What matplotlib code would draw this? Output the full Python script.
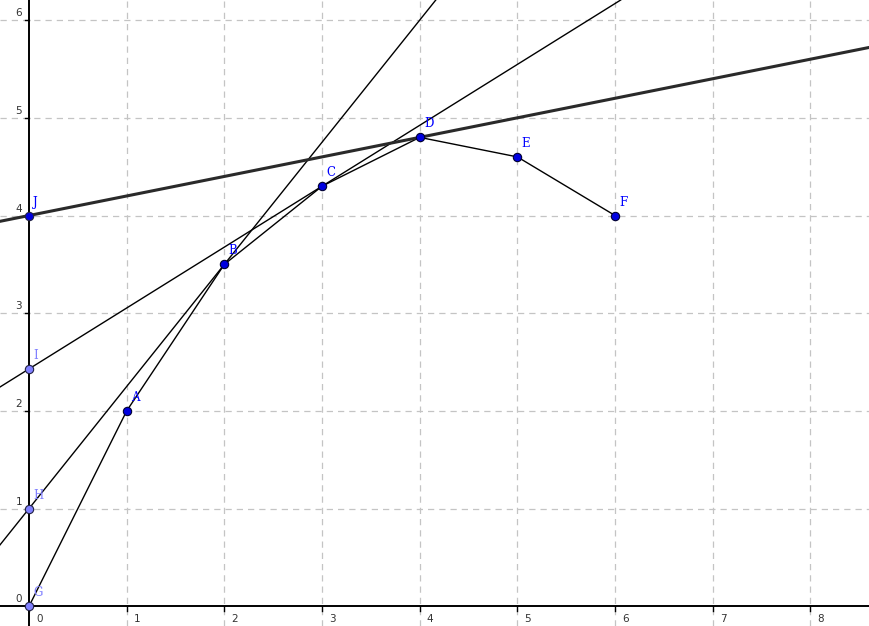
import matplotlib
matplotlib.use("Agg")
import matplotlib.pyplot as plt

# data points (blue)
pt_names = ["A", "B", "C", "D", "E", "F"]
pt_x = [1, 2, 3, 4, 5, 6]
pt_y = [2.0, 3.5, 4.3, 4.8, 4.6, 4.0]

# y-intercept points
int_names = ["G", "H", "I", "J"]
int_y = [0.0, 1.0, 2.43, 4.0]

# tangent lines: (intercept point index, through data point index)
tangent_pairs = [(1, 1), (2, 2), (3, 3)]

x_ticks = [0, 1, 2, 3, 4, 5, 6, 7, 8]
y_ticks = [0, 1, 2, 3, 4, 5, 6]

fig = plt.figure(figsize=(8.69, 6.26), dpi=100)
ax = fig.add_axes([0, 0, 1, 1])
ax.set_xlim(-0.297, 8.60)
ax.set_ylim(-0.2016, 6.206)
ax.axis("off")

# grid
for xv in x_ticks:
    if xv != 0:
        ax.axvline(xv, color="#c4c4c4", lw=0.9, ls=(0, (5, 4)), zorder=0)
for yv in y_ticks:
    if yv != 0:
        ax.axhline(yv, color="#c4c4c4", lw=0.9, ls=(0, (5, 4)), zorder=0)

# axes
ax.axhline(0, color="black", lw=1.4, zorder=1)
ax.axvline(0, color="black", lw=1.4, zorder=1)
for xv in x_ticks:
    ax.plot([xv, xv], [0, -0.05], color="black", lw=1.0, zorder=1)
    ax.annotate(str(xv), (xv, 0), xytext=(5, -9), textcoords="offset points",
                fontsize=7.5, color="#333333", ha="left", va="center")
for yv in y_ticks:
    ax.plot([-0.04, 0], [yv, yv], color="black", lw=1.0, zorder=1)
    ax.annotate(str(yv), (0, yv), xytext=(-5, 5), textcoords="offset points",
                fontsize=7.5, color="#333333", ha="right", va="center")

# polyline starting at G
poly_x = [0] + pt_x
poly_y = [int_y[0]] + pt_y
ax.plot(poly_x, poly_y, color="black", lw=1.0, zorder=2)

# tangent lines
for k, (ii, pi) in enumerate(tangent_pairs):
    thick = (ii == 3)
    ax.axline((0, int_y[ii]), (pt_x[pi], pt_y[pi]),
              color="#2a2a2a" if thick else "black",
              lw=2.2 if thick else 1.0, zorder=2)

# points
ax.plot(pt_x, pt_y, "o", ms=6, mfc="#0000e0", mec="#000033", mew=0.8, zorder=4)
for n, xv, yv in zip(pt_names, pt_x, pt_y):
    ax.annotate(n, (xv, yv), xytext=(3, 5), textcoords="offset points",
                fontsize=8.5, color="#0000ff", family="DejaVu Serif", va="bottom")

for k, (n, yv) in enumerate(zip(int_names, int_y)):
    if n == "J":
        fc, tc = "#0000e0", "#0000ff"
    else:
        fc, tc = "#8080ff", "#8080ff"
    ax.plot([0], [yv], "o", ms=6, mfc=fc, mec="#222244", mew=0.8, zorder=4)
    ax.annotate(n, (0, yv), xytext=(3, 5), textcoords="offset points",
                fontsize=8.5, color=tc, family="DejaVu Serif", va="bottom")

fig.savefig("out.png", dpi=100)
